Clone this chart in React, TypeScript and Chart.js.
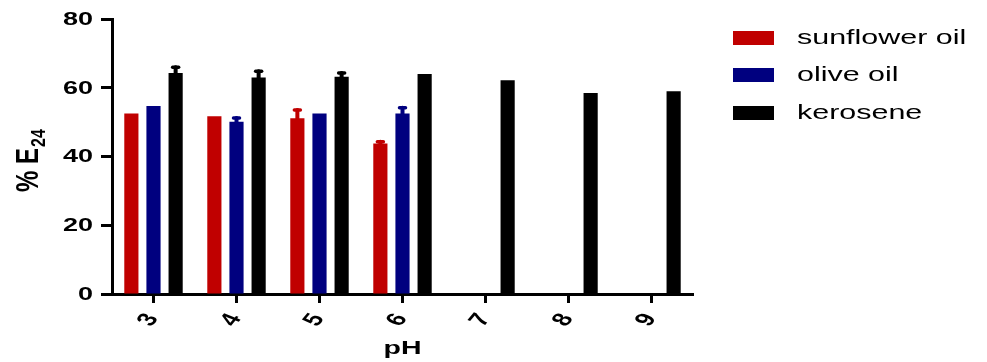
import React, { useEffect, useRef } from "react";
import { Chart, registerables } from "chart.js";

Chart.register(...registerables);

const categories = ["3", "4", "5", "6", "7", "8", "9"];
const sunflower = [52.5, 51.7, 51.1, 43.8, null, null, null];
const sunflowerErr = [0, 0, 2.4, 0.5, null, null, null];
const olive = [54.7, 50.1, 52.5, 52.5, null, null, null];
const oliveErr = [0, 1.1, 0, 1.7, null, null, null];
const kerosene = [64.3, 63.0, 63.2, 64.0, 62.2, 58.5, 59.0];
const keroseneErr = [1.7, 1.8, 1.1, 0, 0, 0, 0];
const seriesNames = ["sunflower oil", "olive oil", "kerosene"];
const seriesColors = ["#C00000", "#00007F", "#000000"];
const yTickValues = [0, 20, 40, 60, 80];

const FONT = '"Liberation Sans", Arial, sans-serif';
const SX = 1.45;

function drawText(
  ctx: CanvasRenderingContext2D,
  text: string,
  x: number,
  y: number,
  font: string,
  align: CanvasTextAlign,
  baseline: CanvasTextBaseline,
  sx: number,
  rot: number
) {
  ctx.save();
  ctx.translate(x, y);
  ctx.scale(sx, 1);
  ctx.rotate(rot);
  ctx.font = font;
  ctx.fillStyle = "#000";
  ctx.textAlign = align;
  ctx.textBaseline = baseline;
  ctx.fillText(text, 0, 0);
  ctx.restore();
}

const errorBarPlugin = {
  id: "errorBars",
  afterDatasetsDraw(chart: any) {
    const ctx = chart.ctx;
    const yScale = chart.scales.y;
    chart.data.datasets.forEach((ds: any, di: number) => {
      const meta = chart.getDatasetMeta(di);
      const errs = ds.errors || [];
      meta.data.forEach((el: any, i: number) => {
        const v = ds.data[i];
        const e = errs[i];
        if (v == null || !e) return;
        const yTop = yScale.getPixelForValue(v + e);
        ctx.save();
        ctx.strokeStyle = ds.backgroundColor;
        ctx.lineCap = "round";
        ctx.lineWidth = 4;
        ctx.beginPath();
        ctx.moveTo(el.x, el.y);
        ctx.lineTo(el.x, yTop);
        ctx.stroke();
        ctx.lineWidth = 3.5;
        ctx.beginPath();
        ctx.moveTo(el.x - 3, yTop);
        ctx.lineTo(el.x + 3, yTop);
        ctx.stroke();
        ctx.restore();
      });
    });
  },
};

const textPlugin = {
  id: "customText",
  afterDraw(chart: any) {
    const ctx = chart.ctx;
    const xs = chart.scales.x;
    const ys = chart.scales.y;
    const area = chart.chartArea;
    // y tick labels
    yTickValues.forEach((v) => {
      drawText(ctx, String(v), area.left - 19, ys.getPixelForValue(v) + 1, `bold 18px ${FONT}`, "right", "middle", SX + 0.05, 0);
    });
    // x tick labels (rotated counter-clockwise)
    categories.forEach((c, i) => {
      drawText(ctx, c, xs.getPixelForValue(i) - 5, area.bottom + 26, `bold 19px ${FONT}`, "center", "middle", SX, -Math.PI / 3);
    });
    // x title
    drawText(ctx, "pH", (area.left + area.right) / 2, 354, `bold 19px ${FONT}`, "center", "alphabetic", SX + 0.05, 0);
    // y title with subscript
    ctx.save();
    ctx.translate(38, 192);
    ctx.scale(1.3, 1);
    ctx.rotate(-Math.PI / 2);
    ctx.fillStyle = "#000";
    ctx.textAlign = "left";
    ctx.textBaseline = "alphabetic";
    ctx.font = `bold 24px ${FONT}`;
    const main = "% E";
    ctx.fillText(main, 0, 0);
    const w = ctx.measureText(main).width;
    ctx.font = `bold 16px ${FONT}`;
    ctx.fillText("24", w + 1, 5);
    ctx.restore();
    // legend
    const lx = area.right + 40;
    const rows = [38, 75, 113];
    chart.data.datasets.forEach((ds: any, di: number) => {
      const cy = rows[di];
      ctx.save();
      ctx.fillStyle = ds.backgroundColor;
      ctx.fillRect(lx, cy - 7, 41, 14);
      ctx.restore();
      drawText(ctx, ds.label, lx + 64, cy, `21px ${FONT}`, "left", "middle", SX, 0);
    });
  },
};

export default function App() {
  const ref = useRef<HTMLCanvasElement | null>(null);
  useEffect(() => {
    if (!ref.current) return;
    const chart = new Chart(ref.current, {
      type: "bar",
      data: {
        labels: categories,
        datasets: [
          { label: seriesNames[0], data: sunflower, errors: sunflowerErr, backgroundColor: seriesColors[0] } as any,
          { label: seriesNames[1], data: olive, errors: oliveErr, backgroundColor: seriesColors[1] } as any,
          { label: seriesNames[2], data: kerosene, errors: keroseneErr, backgroundColor: seriesColors[2] } as any,
        ],
      },
      options: {
        animation: false,
        responsive: false,
        devicePixelRatio: 1,
        datasets: { bar: { categoryPercentage: 0.8, barPercentage: 0.64 } },
        layout: { padding: { top: 19, right: 294, left: 0, bottom: 0 } },
        plugins: { legend: { display: false }, tooltip: { enabled: false }, title: { display: false } },
        scales: {
          x: {
            offset: true,
            grid: { display: true, drawOnChartArea: false, drawTicks: true, tickLength: 9, tickWidth: 3, color: "#000", offset: false },
            border: { display: true, width: 3, color: "#000" },
            ticks: { display: false },
            afterFit: (s: any) => { s.height = 68; },
          },
          y: {
            min: 0,
            max: 80,
            ticks: { display: false, stepSize: 20 },
            grid: { display: true, drawOnChartArea: false, drawTicks: true, tickLength: 11, tickWidth: 3, color: "#000" },
            border: { display: true, width: 3, color: "#000" },
            afterFit: (s: any) => { s.width = 112; },
          },
        },
      },
      plugins: [errorBarPlugin, textPlugin],
    } as any);
    return () => chart.destroy();
  }, []);
  return (
    <div style={{ position: "fixed", left: 0, top: 0, width: 987, height: 362, background: "#fff" }}>
      <canvas ref={ref} width={987} height={362} />
    </div>
  );
}
